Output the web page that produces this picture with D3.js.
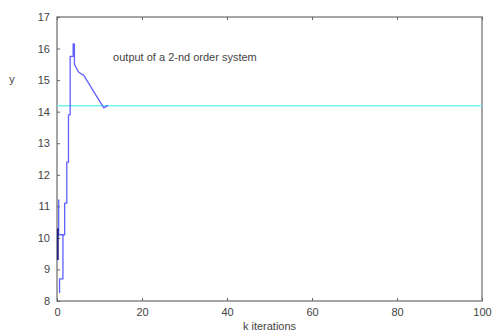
<!DOCTYPE html>
<html>
<head>
<meta charset="utf-8">
<script src="https://cdn.jsdelivr.net/npm/d3@7"></script>
<style>
  body { margin: 0; background: #fff; }
  text { font-family: "Liberation Sans", Arial, sans-serif; fill: #444; }
</style>
</head>
<body>
<svg id="chart" width="496" height="336"></svg>
<script>
// system output (k, y)
const outK = [0.6, 0.6, 1.4, 1.4, 0.4, 0.4, 0.4, 1.8, 1.8, 2.3, 2.3, 2.7, 2.7, 3.1, 3.1, 3.8, 3.8, 4.1, 4.1, 5.1, 6.3, 11.0, 12.0];
const outY = [8.25, 8.7, 8.7, 10.1, 10.1, 11.2, 10.1, 10.1, 11.1, 11.1, 12.4, 12.4, 13.9, 13.9, 15.75, 15.75, 16.15, 16.15, 15.5, 15.25, 15.15, 14.12, 14.2];
// short dark segment at the start
const startK = [0.2, 0.2];
const startY = [9.3, 10.3];
// steady-state level
const steadyK = [0, 100];
const steadyY = [14.19, 14.19];

const xTicks = [0, 20, 40, 60, 80, 100];
const yTicks = [8, 9, 10, 11, 12, 13, 14, 15, 16, 17];

const margin = { top: 17, right: 14, bottom: 35, left: 57 };
const width = 496 - margin.left - margin.right;
const height = 336 - margin.top - margin.bottom;

const svg = d3.select("#chart");
const g = svg.append("g")
    .attr("transform", `translate(${margin.left}, ${margin.top})`);

const x = d3.scaleLinear().domain([0, 100]).range([0, width]);
const y = d3.scaleLinear().domain([8, 17]).range([height, 0]);

// frame
g.append("rect")
    .attr("width", width).attr("height", height)
    .attr("fill", "none").attr("stroke", "#888").attr("stroke-width", 1.5);

// axes with inward ticks
const xAxis = g.append("g")
    .attr("transform", `translate(0, ${height})`)
    .call(d3.axisBottom(x).tickValues(xTicks).tickSizeInner(-3).tickSizeOuter(0).tickPadding(7));
const xAxisTop = g.append("g")
    .call(d3.axisTop(x).tickValues(xTicks).tickSizeInner(-3).tickSizeOuter(0).tickFormat(""));
const yAxis = g.append("g")
    .call(d3.axisLeft(y).tickValues(yTicks).tickSizeInner(-3).tickSizeOuter(0).tickPadding(7));

[xAxis, xAxisTop, yAxis].forEach(a => {
    a.select(".domain").remove();
    a.selectAll(".tick line").attr("stroke", "#666");
    a.selectAll(".tick text").attr("fill", "#444").style("font-size", "11px")
        .style("font-family", "Liberation Sans, Arial, sans-serif");
});

const line = d3.line().x(d => x(d[0])).y(d => y(d[1]));

g.append("path")
    .datum(d3.zip(steadyK, steadyY))
    .attr("d", line)
    .attr("fill", "none").attr("stroke", "#70f4f4").attr("stroke-width", 1.5);

g.append("path")
    .datum(d3.zip(outK, outY))
    .attr("d", line)
    .attr("fill", "none").attr("stroke", "#6060ff").attr("stroke-width", 1.3)
    .attr("stroke-linejoin", "round");

g.append("path")
    .datum(d3.zip(startK, startY))
    .attr("d", line)
    .attr("fill", "none").attr("stroke", "#202080").attr("stroke-width", 1.8);

// labels
g.append("text")
    .attr("x", x(13.2)).attr("y", y(15.6))
    .style("font-size", "11px")
    .text("output of a 2-nd order system");

svg.append("text")
    .attr("x", margin.left + width / 2).attr("y", 330)
    .attr("text-anchor", "middle")
    .style("font-size", "11px")
    .text("k iterations");

svg.append("text")
    .attr("x", 12).attr("y", 83)
    .attr("text-anchor", "middle")
    .style("font-size", "11px")
    .text("y");
</script>
</body>
</html>
